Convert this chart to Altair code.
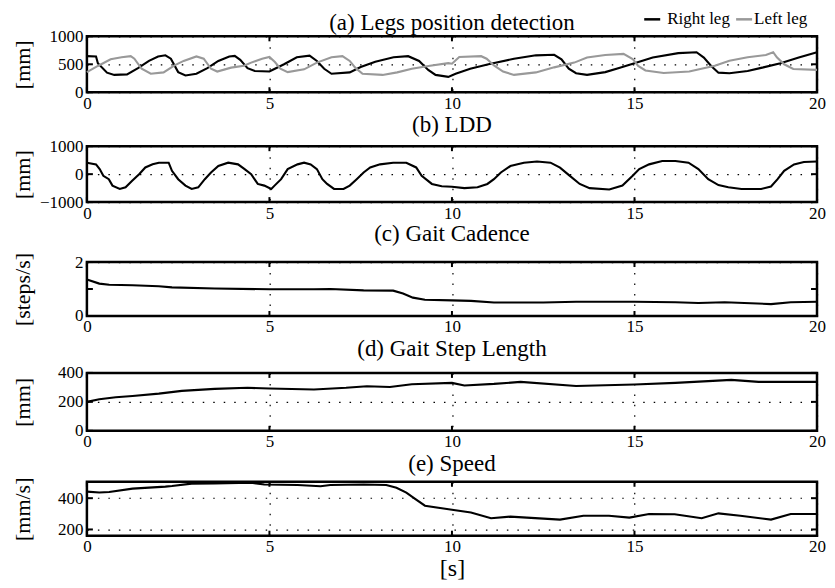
import altair as alt
import pandas as pd

FONT = "Liberation Serif"

# ---------------- data ----------------
X_TICKS = [0, 5, 10, 15, 20]

T_RIGHT = [0, 0.25, 0.3, 0.55, 0.75, 1.1, 1.4, 1.7, 1.95, 2.15, 2.3, 2.5, 2.7, 3.0, 3.3, 3.6, 3.9, 4.05,
           4.2, 4.4, 4.6, 5.0, 5.15, 5.4, 5.75, 6.1, 6.3, 6.5, 6.7, 7.2, 7.5, 7.9, 8.4, 8.8, 9.1, 9.35,
           9.55, 9.9, 10.1, 10.5, 11.0, 11.7, 12.3, 12.8, 13.0, 13.2, 13.4, 13.7, 14.2, 14.6, 15.0, 15.5,
           16.2, 16.7, 16.9, 17.1, 17.3, 17.6, 18.1, 18.5, 19.0, 19.5, 20.0]
V_RIGHT = [645, 640, 520, 350, 310, 320, 430, 560, 640, 660, 600, 360, 300, 330, 430, 560, 640, 650,
           580, 430, 380, 370, 420, 500, 625, 655, 560, 420, 330, 355, 450, 545, 625, 645, 560, 400,
           310, 275, 330, 420, 500, 600, 660, 670, 590, 420, 340, 310, 360, 440, 520, 620,
           700, 715, 620, 470, 350, 340, 380, 440, 520, 620, 715]

T_LEFT = [0, 0.3, 0.65, 0.95, 1.2, 1.3, 1.5, 1.75, 2.1, 2.4, 2.65, 3.0, 3.2, 3.4, 3.57, 3.95, 4.3, 4.5,
          4.8, 5.0, 5.15, 5.3, 5.5, 5.95, 6.3, 6.7, 7.0, 7.2, 7.35, 7.55, 8.1, 8.5, 8.9, 9.4, 9.9, 10.0,
          10.2, 10.8, 10.95, 11.15, 11.4, 11.7, 12.3, 12.8, 13.35, 13.7, 14.2, 14.7, 14.95, 15.1, 15.3,
          15.8, 16.5, 17.2, 17.6, 18.1, 18.6, 18.8, 18.9, 19.1, 19.35, 20.0]
V_LEFT = [360, 470, 590, 625, 645, 600, 420, 330, 355, 480, 560, 640, 600, 420, 370, 440, 475, 530,
          600, 630, 540, 420, 360, 410, 530, 625, 645, 560, 440, 330, 310, 355, 420, 475, 520, 510,
          630, 645, 600, 480, 370, 310, 355, 445, 530, 620, 667, 685, 595, 470, 390,
          345, 370, 475, 565, 625, 667, 715, 625, 500, 415, 400]

T_LDD = [0, 0.25, 0.35, 0.45, 0.6, 0.7, 0.9, 1.06, 1.24, 1.43, 1.6, 1.8, 1.97, 2.24, 2.33, 2.5, 2.7,
         2.87, 3.05, 3.23, 3.4, 3.6, 3.87, 4.14, 4.32, 4.5, 4.68, 4.86, 5.05, 5.14, 5.32, 5.5, 5.77,
         5.95, 6.13, 6.3, 6.45, 6.58, 6.77, 7.03, 7.2, 7.39, 7.58, 7.76, 8.03, 8.39, 8.75, 9.02, 9.17,
         9.45, 9.72, 10.0, 10.34, 10.7, 10.97, 11.15, 11.34, 11.6, 11.97, 12.33, 12.7, 12.96, 13.23,
         13.5, 13.77, 14.31, 14.67, 14.95, 15.13, 15.4, 15.76, 16.12, 16.48, 16.75, 17.02, 17.3,
         17.57, 17.93, 18.47, 18.74, 18.92, 19.1, 19.37, 19.64, 20.0]
V_LDD = [410, 350, 180, -60, -180, -410, -530, -470, -240, 0, 240, 350, 410, 410, 120, -180, -410,
         -530, -470, -180, 60, 290, 410, 350, 180, 0, -350, -410, -530, -410, -180, 180, 350,
         410, 350, 180, -180, -350, -530, -530, -410, -180, 60, 240, 350, 410, 410, 240, -60,
         -350, -430, -450, -500, -470, -350, -180, 60, 290, 410, 450, 410, 235, -60,
         -350, -500, -550, -410, -60, 180, 350, 470, 470, 410, 180, -180, -390,
         -470, -530, -530, -440, -180, 120, 350, 435, 450]

T_CAD = [0, 0.34, 0.61, 1.25, 1.97, 2.33, 3.5, 5.0, 6.22, 6.67, 7.58, 8.39, 8.66, 8.93, 9.26, 10.0,
         10.52, 11.15, 12.5, 13.4, 15.0, 16.12, 16.75, 17.47, 18.74, 19.28, 20.0]
V_CAD = [1.35, 1.2, 1.16, 1.14, 1.1, 1.06, 1.02, 0.99, 0.99, 1.0, 0.95, 0.94, 0.83, 0.68, 0.6, 0.58,
         0.56, 0.5, 0.5, 0.53, 0.53, 0.51, 0.48, 0.51, 0.44, 0.51, 0.53]

T_STEP = [0, 0.34, 0.79, 1.25, 1.97, 2.6, 3.5, 4.4, 5.0, 6.22, 7.1, 7.67, 8.3, 8.9, 10.0, 10.34, 11.15,
          11.88, 13.4, 15.0, 16.12, 17.02, 17.65, 18.4, 20.0]
V_STEP = [200, 218, 232, 241, 257, 276, 290, 297, 292, 285, 297, 308, 303, 322, 331, 313, 324,
          338, 310, 320, 331, 343, 352, 338, 338]

T_SPEED = [0, 0.34, 0.61, 1.25, 2.15, 2.33, 2.87, 3.5, 4.5, 4.86, 5.77, 6.4, 6.67, 7.58, 8.2, 8.48,
           8.75, 9.0, 9.26, 10.0, 10.52, 11.07, 11.6, 12.96, 13.6, 14.3, 14.86, 15.4, 16.1, 16.84,
           17.3, 17.9, 18.74, 19.28, 20.0]
V_SPEED = [442, 436, 440, 461, 474, 478, 493, 495, 499, 488, 484, 476, 484, 488, 484, 467,
           436, 394, 352, 326, 309, 272, 282, 263, 288, 288, 276, 299, 297, 272,
           303, 288, 263, 299, 299]

LEGS = ["Right leg", "Left leg"]
LEG_COLORS = ["black", "#999999"]

W = 731
GRID = dict(grid=True, gridDash=[1.5, 9], gridColor="black", gridWidth=1.2, gridOpacity=1)


def make_panel(title, df, ydomain, yticks, ytitle, height, toff, xtitle=None, color=None, extra=()):
    x_enc = alt.X("t:Q", scale=alt.Scale(domain=[0, 20], nice=False, zero=False),
                  axis=alt.Axis(values=X_TICKS, ticks=False, domain=False, labelFont=FONT,
                                labelFontSize=17, labelColor="black", labelPadding=3, format="d",
                                labelFlush=False, title=xtitle, titleFont=FONT, titleFontSize=24,
                                titleFontWeight="normal", titleColor="black", titlePadding=2, **GRID))
    y_enc = alt.Y("v:Q", scale=alt.Scale(domain=ydomain, nice=False, zero=False),
                  axis=alt.Axis(values=yticks, ticks=False, domain=False, labelFont=FONT,
                                labelFontSize=17, labelColor="black", labelPadding=4, format="d",
                                title=ytitle, titleFont=FONT, titleFontSize=22,
                                titleFontWeight="normal", titleColor="black", titleX=-64,
                                titleY=height / 2, titleAlign="center", titleBaseline="middle",
                                **GRID))
    enc = dict(x=x_enc, y=y_enc)
    if color is not None:
        enc["color"] = color
        line = alt.Chart(df).mark_line(strokeWidth=2.1).encode(**enc)
    else:
        line = alt.Chart(df).mark_line(strokeWidth=2.1, color="black").encode(**enc)

    xt = pd.DataFrame({"t": X_TICKS})
    yt = pd.DataFrame({"v": yticks})
    tick_style = dict(color="black", strokeWidth=2)
    xt_top = alt.Chart(xt).mark_rule(**tick_style).encode(x=x_enc, y=alt.value(0), y2=alt.value(5))
    xt_bot = alt.Chart(xt).mark_rule(**tick_style).encode(x=x_enc, y=alt.value(height),
                                                          y2=alt.value(height - 5))
    yt_l = alt.Chart(yt).mark_rule(**tick_style).encode(y=y_enc, x=alt.value(0), x2=alt.value(6))
    yt_r = alt.Chart(yt).mark_rule(**tick_style).encode(y=y_enc, x=alt.value(W), x2=alt.value(W - 6))

    return alt.layer(line, xt_top, xt_bot, yt_l, yt_r, *extra).properties(
        width=W, height=height,
        title=alt.TitleParams(title, font=FONT, fontSize=23, fontWeight="normal", color="black",
                              offset=toff, anchor="middle"))


legs_df = pd.concat([
    pd.DataFrame({"t": T_RIGHT, "v": V_RIGHT, "leg": "Right leg"}),
    pd.DataFrame({"t": T_LEFT, "v": V_LEFT, "leg": "Left leg"}),
])
leg_color = alt.Color("leg:N", scale=alt.Scale(domain=LEGS, range=LEG_COLORS), legend=None)

# hand-made legend above the top-right corner of panel (a)
legend_items = []
LEG_X = [558, 650]
for i, name in enumerate(LEGS):
    d = pd.DataFrame({"leg": [name]})
    legend_items.append(
        alt.Chart(d).mark_rule(strokeWidth=2.5, color=LEG_COLORS[i]).encode(
            x=alt.value(LEG_X[i]), x2=alt.value(LEG_X[i] + 16), y=alt.value(-17)))
    legend_items.append(
        alt.Chart(d).mark_text(align="left", baseline="middle", font=FONT, fontSize=17,
                               color="black").encode(
            text="leg:N", x=alt.value(LEG_X[i] + (23 if i == 0 else 18)), y=alt.value(-17)))

pa = make_panel("(a) Legs position detection", legs_df, [0, 1000], [0, 500, 1000], "[mm]", 56, -25,
                color=leg_color, extra=legend_items)
pb = make_panel("(b) LDD", pd.DataFrame({"t": T_LDD, "v": V_LDD}), [-1000, 1000],
                [-1000, 0, 1000], "[mm]", 56, 0)
pc = make_panel("(c) Gait Cadence", pd.DataFrame({"t": T_CAD, "v": V_CAD}), [0, 2], [0, 1, 2],
                "[steps/s]", 54, 6)
pd_ = make_panel("(d) Gait Step Length", pd.DataFrame({"t": T_STEP, "v": V_STEP}), [0, 400],
                 [0, 200, 400], "[mm]", 58, 3)
pe = make_panel("(e) Speed", pd.DataFrame({"t": T_SPEED, "v": V_SPEED}), [160, 505], [200, 400],
                "[mm/s]", 54, 1, xtitle="[s]")

chart = alt.vconcat(pa, pb, pc, pd_, pe, spacing=-1).properties(
    padding={"left": 2, "top": 0, "right": 0, "bottom": 0}
).configure_view(stroke="black", strokeWidth=2.5)

chart.save("out.html", embed_options={"renderer": "svg", "actions": False})
